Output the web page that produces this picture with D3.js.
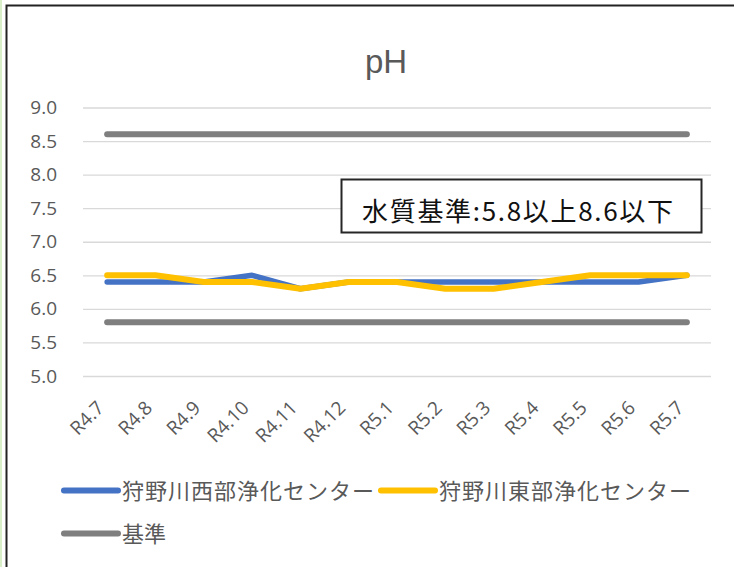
<!DOCTYPE html>
<html>
<head>
<meta charset="utf-8">
<script src="https://cdn.jsdelivr.net/npm/d3@7"></script>
<style>
    body { margin: 0; background: #fff; }
    svg { display: block; font-family: "Noto Sans CJK JP", "Noto Sans", sans-serif; }
</style>
</head>
<body>
<div id="chart"></div>
<script>
var months = ['R4.7', 'R4.8', 'R4.9', 'R4.10', 'R4.11', 'R4.12', 'R5.1', 'R5.2', 'R5.3', 'R5.4', 'R5.5', 'R5.6', 'R5.7'];
var westValues = [6.4, 6.4, 6.4, 6.5, 6.3, 6.4, 6.4, 6.4, 6.4, 6.4, 6.4, 6.4, 6.5];
var eastValues = [6.5, 6.5, 6.4, 6.4, 6.3, 6.4, 6.4, 6.3, 6.3, 6.4, 6.5, 6.5, 6.5];
var standardLow = 5.8;
var standardHigh = 8.6;
var yTicks = [5.0, 5.5, 6.0, 6.5, 7.0, 7.5, 8.0, 8.5, 9.0];
var seriesNames = ['狩野川西部浄化センター', '狩野川東部浄化センター', '基準'];
var seriesColors = ['#4472c4', '#ffc000', '#7f7f7f'];
var titleText = 'pH';
var noteText = '水質基準:5.8以上8.6以下';

var width = 734, height = 567;
var plot = { left: 83, right: 711, top: 107.5, bottom: 376 };

var svg = d3.select('#chart').append('svg')
    .attr('width', width)
    .attr('height', height);

// frame of the screenshot
svg.append('line')
    .attr('x1', 1).attr('x2', 1).attr('y1', 0).attr('y2', height)
    .attr('stroke', '#d8efc8').attr('stroke-width', 2);
svg.append('path')
    .attr('d', 'M6.5,' + height + 'V5.5H' + width)
    .attr('fill', 'none')
    .attr('stroke', '#222')
    .attr('stroke-width', 2);

var x = d3.scaleBand().domain(months).range([plot.left, plot.right]);
var y = d3.scaleLinear().domain([5, 9]).range([plot.bottom, plot.top]);
var cx = d => x(d) + x.bandwidth() / 2;

svg.append('text')
    .attr('x', 386)
    .attr('y', 73)
    .attr('text-anchor', 'middle')
    .attr('fill', '#595959')
    .style('font-family', '"Liberation Sans", Arial, sans-serif')
    .style('font-size', '33px')
    .text(titleText);

// y axis: only gridlines and labels
var yAxis = d3.axisLeft(y)
    .tickValues(yTicks)
    .tickFormat(d3.format('.1f'))
    .tickSize(-(plot.right - plot.left))
    .tickPadding(26);
var yGroup = svg.append('g')
    .attr('transform', 'translate(' + plot.left + ',0)')
    .call(yAxis);
yGroup.select('.domain').remove();
yGroup.selectAll('.tick line').attr('stroke', '#d9d9d9').attr('stroke-width', 1.3);
yGroup.selectAll('.tick text')
    .attr('fill', '#595959')
    .style('font-size', '19px')
    .style('font-family', '"Open Sans", "Noto Sans", sans-serif');

// x axis labels, rotated
var xAxis = d3.axisBottom(x).tickSize(0).tickPadding(0);
var xGroup = svg.append('g')
    .attr('transform', 'translate(0,' + plot.bottom + ')')
    .call(xAxis);
xGroup.select('.domain').remove();
xGroup.selectAll('.tick text')
    .attr('fill', '#595959')
    .style('font-size', '19px')
    .style('font-family', '"Open Sans", "Noto Sans", sans-serif')
    .attr('text-anchor', 'end')
    .attr('dy', null)
    .attr('transform', 'translate(-2,33) rotate(-45)');

var line = d3.line()
    .x((d, i) => cx(months[i]))
    .y(d => y(d));

// standard lines
[standardHigh, standardLow].forEach(function (v) {
    svg.append('path')
        .datum(months.map(() => v))
        .attr('d', line)
        .attr('fill', 'none')
        .attr('stroke', seriesColors[2])
        .attr('stroke-width', 6)
        .attr('stroke-linecap', 'round');
});

svg.append('path')
    .datum(westValues)
    .attr('d', line)
    .attr('fill', 'none')
    .attr('stroke', seriesColors[0])
    .attr('stroke-width', 5.5)
    .attr('stroke-linejoin', 'round')
    .attr('stroke-linecap', 'round');

svg.append('path')
    .datum(eastValues)
    .attr('d', line)
    .attr('fill', 'none')
    .attr('stroke', seriesColors[1])
    .attr('stroke-width', 6)
    .attr('stroke-linejoin', 'round')
    .attr('stroke-linecap', 'round');

// annotation box
svg.append('rect')
    .attr('x', 341.5)
    .attr('y', 179.5)
    .attr('width', 360)
    .attr('height', 53)
    .attr('fill', '#fff')
    .attr('stroke', '#262626')
    .attr('stroke-width', 2);
svg.append('text')
    .attr('x', 362)
    .attr('y', 221)
    .attr('fill', '#111')
    .style('font-size', '26px')
    .attr('textLength', 311)
    .attr('lengthAdjust', 'spacing')
    .text(noteText);

// legend
var legendItems = [
    { name: seriesNames[0], color: seriesColors[0], x: 64, y: 490.5, w: 252 },
    { name: seriesNames[1], color: seriesColors[1], x: 381, y: 490.5, w: 252 },
    { name: seriesNames[2], color: seriesColors[2], x: 64, y: 533.5, w: null }
];
var legend = svg.append('g').selectAll('g').data(legendItems).enter()
    .append('g')
    .attr('transform', d => 'translate(' + d.x + ',' + d.y + ')');
legend.append('line')
    .attr('x1', 0).attr('x2', 54)
    .attr('stroke', d => d.color)
    .attr('stroke-width', 6)
    .attr('stroke-linecap', 'round');
legend.append('text')
    .attr('x', 58)
    .attr('y', 8)
    .attr('fill', '#595959')
    .style('font-size', '22px')
    .attr('textLength', d => d.w)
    .attr('lengthAdjust', 'spacing')
    .text(d => d.name);
</script>
</body>
</html>
